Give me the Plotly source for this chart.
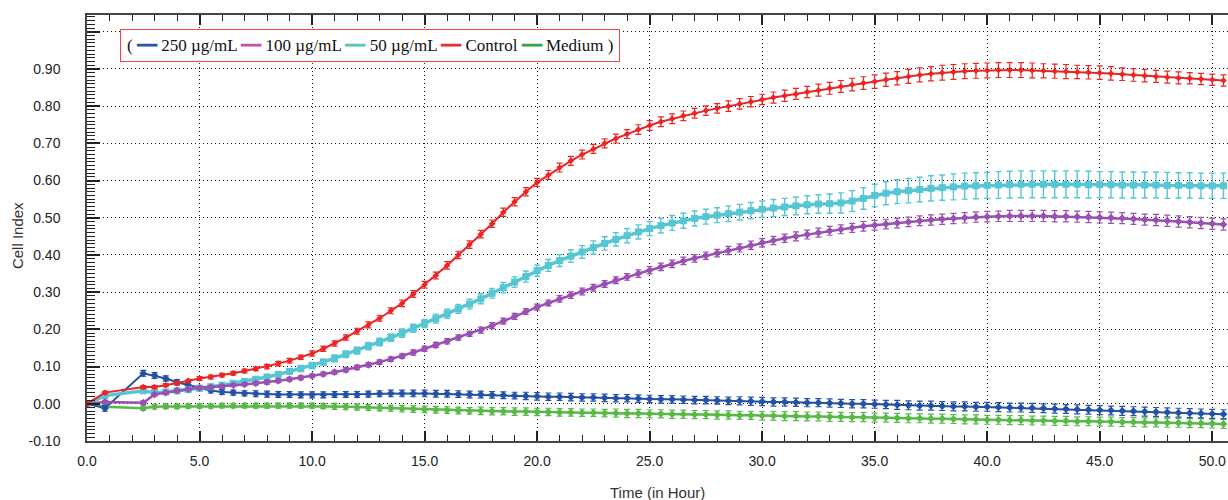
import plotly.graph_objects as go

# ---------------- data ----------------
TIME_H = [0.0, 0.8] + [2.5 + 0.5 * i for i in range(97)]  # 2.5 .. 50.5 h

SERIES_NAMES = ["250 µg/mL", "100 µg/mL", "50 µg/mL", "Control", "Medium"]

CI_250 = [0.000, -0.012,
    0.082, 0.076, 0.068, 0.058, 0.050, 0.042, 0.036, 0.032, 0.030, 0.028,
    0.027, 0.026, 0.025, 0.025, 0.024, 0.024, 0.024, 0.025, 0.025, 0.025,
    0.026, 0.027, 0.028, 0.028, 0.028, 0.028, 0.027, 0.027, 0.026, 0.025,
    0.025, 0.024, 0.023, 0.022, 0.021, 0.020, 0.019, 0.019, 0.018, 0.017,
    0.017, 0.016, 0.015, 0.015, 0.014, 0.013, 0.012, 0.012, 0.011, 0.010,
    0.010, 0.009, 0.008, 0.008, 0.007, 0.006, 0.005, 0.005, 0.004, 0.003,
    0.003, 0.002, 0.001, 0.000, 0.000, -0.001, -0.002, -0.003, -0.004, -0.005,
    -0.005, -0.006, -0.007, -0.007, -0.008, -0.008, -0.009, -0.010, -0.010, -0.011,
    -0.012, -0.013, -0.014, -0.015, -0.016, -0.017, -0.018, -0.019, -0.020, -0.021,
    -0.022, -0.023, -0.024, -0.025, -0.026, -0.027, -0.028]

CI_100 = [0.000, 0.005,
    0.003, 0.025, 0.030, 0.035, 0.039, 0.043, 0.045, 0.047, 0.050, 0.052,
    0.055, 0.058, 0.062, 0.066, 0.070, 0.075, 0.080, 0.085, 0.091, 0.098,
    0.105, 0.112, 0.120, 0.128, 0.138, 0.148, 0.158, 0.168, 0.178, 0.188,
    0.198, 0.210, 0.222, 0.235, 0.248, 0.260, 0.271, 0.282, 0.292, 0.302,
    0.312, 0.322, 0.332, 0.341, 0.350, 0.359, 0.368, 0.376, 0.384, 0.391,
    0.398, 0.405, 0.412, 0.419, 0.426, 0.433, 0.439, 0.445, 0.450, 0.455,
    0.460, 0.465, 0.469, 0.473, 0.477, 0.480, 0.483, 0.486, 0.489, 0.492,
    0.494, 0.496, 0.498, 0.500, 0.502, 0.503, 0.504, 0.505, 0.505, 0.505,
    0.505, 0.504, 0.504, 0.503, 0.502, 0.501, 0.500, 0.499, 0.497, 0.495,
    0.494, 0.492, 0.490, 0.488, 0.486, 0.484, 0.482]

CI_50 = [0.000, 0.022,
    0.035, 0.030, 0.032, 0.035, 0.038, 0.042, 0.046, 0.050, 0.055, 0.060,
    0.066, 0.072, 0.079, 0.087, 0.095, 0.103, 0.112, 0.122, 0.133, 0.143,
    0.155, 0.166, 0.178, 0.190, 0.203, 0.216, 0.229, 0.242, 0.255, 0.268,
    0.282, 0.297, 0.312, 0.327, 0.342, 0.358, 0.372, 0.385, 0.397, 0.408,
    0.420, 0.431, 0.442, 0.452, 0.462, 0.471, 0.479, 0.486, 0.492, 0.498,
    0.503, 0.507, 0.511, 0.515, 0.519, 0.523, 0.526, 0.529, 0.532, 0.535,
    0.537, 0.538, 0.540, 0.545, 0.552, 0.560, 0.566, 0.570, 0.573, 0.576,
    0.579, 0.581, 0.583, 0.585, 0.586, 0.587, 0.588, 0.589, 0.590, 0.590,
    0.590, 0.590, 0.590, 0.590, 0.589, 0.589, 0.589, 0.588, 0.588, 0.588,
    0.588, 0.587, 0.587, 0.587, 0.586, 0.586, 0.586]

CI_CONTROL = [0.000, 0.030,
    0.045, 0.045, 0.050, 0.055, 0.062, 0.068, 0.072, 0.077, 0.082, 0.088,
    0.094, 0.100, 0.108, 0.116, 0.125, 0.135, 0.148, 0.162, 0.178, 0.195,
    0.212, 0.230, 0.250, 0.270, 0.295, 0.320, 0.345, 0.372, 0.400, 0.428,
    0.456, 0.484, 0.515, 0.543, 0.570, 0.595, 0.615, 0.635, 0.653, 0.670,
    0.685, 0.700, 0.713, 0.725, 0.737, 0.748, 0.758, 0.766, 0.774, 0.781,
    0.788, 0.794, 0.800, 0.806, 0.812, 0.818, 0.823, 0.828, 0.833, 0.838,
    0.843, 0.848, 0.853, 0.858, 0.862, 0.866, 0.871, 0.875, 0.880, 0.884,
    0.887, 0.890, 0.892, 0.894, 0.895, 0.896, 0.897, 0.897, 0.897, 0.896,
    0.895, 0.894, 0.893, 0.892, 0.891, 0.890, 0.888, 0.886, 0.884, 0.882,
    0.880, 0.878, 0.876, 0.875, 0.873, 0.871, 0.869]

CI_MEDIUM = [0.000, -0.008,
    -0.012, -0.008, -0.007, -0.007, -0.006, -0.006, -0.006, -0.005, -0.005, -0.005,
    -0.005, -0.005, -0.005, -0.005, -0.005, -0.005, -0.006, -0.007, -0.008, -0.009,
    -0.010, -0.011, -0.012, -0.013, -0.014, -0.015, -0.016, -0.017, -0.018, -0.019,
    -0.019, -0.020, -0.020, -0.021, -0.021, -0.022, -0.022, -0.023, -0.023, -0.024,
    -0.024, -0.025, -0.025, -0.026, -0.026, -0.027, -0.027, -0.028, -0.028, -0.029,
    -0.029, -0.030, -0.030, -0.031, -0.031, -0.032, -0.032, -0.033, -0.033, -0.034,
    -0.034, -0.035, -0.035, -0.036, -0.036, -0.037, -0.037, -0.038, -0.039, -0.039,
    -0.040, -0.040, -0.041, -0.042, -0.042, -0.043, -0.043, -0.044, -0.044, -0.045,
    -0.045, -0.046, -0.046, -0.047, -0.047, -0.048, -0.048, -0.049, -0.049, -0.050,
    -0.050, -0.051, -0.051, -0.052, -0.052, -0.053, -0.054]

# standard deviations (error bars)
SD_250 = [0.000, 0.008,
    0.008, 0.008, 0.007, 0.007, 0.007, 0.007, 0.007, 0.007, 0.007, 0.007,
    0.008, 0.008, 0.008, 0.008, 0.008, 0.008, 0.008, 0.008, 0.008, 0.008,
    0.008, 0.008, 0.009, 0.009, 0.009, 0.009, 0.009, 0.009, 0.009, 0.009,
    0.009, 0.009, 0.009, 0.009, 0.010, 0.010, 0.010, 0.010, 0.010, 0.010,
    0.010, 0.010, 0.010, 0.010, 0.010, 0.010, 0.010, 0.010, 0.010, 0.010,
    0.010, 0.010, 0.010, 0.011, 0.011, 0.011, 0.011, 0.011, 0.011, 0.011,
    0.011, 0.011, 0.011, 0.011, 0.011, 0.011, 0.011, 0.012, 0.012, 0.012,
    0.012, 0.012, 0.012, 0.012, 0.012, 0.012, 0.012, 0.012, 0.012, 0.012,
    0.012, 0.012, 0.012, 0.012, 0.012, 0.012, 0.012, 0.012, 0.012, 0.012,
    0.012, 0.012, 0.012, 0.012, 0.012, 0.012, 0.012]

SD_100 = [0.000, 0.004,
    0.005, 0.004, 0.004, 0.004, 0.004, 0.004, 0.004, 0.004, 0.004, 0.004,
    0.004, 0.005, 0.005, 0.005, 0.005, 0.005, 0.005, 0.005, 0.006, 0.006,
    0.006, 0.006, 0.006, 0.006, 0.007, 0.007, 0.007, 0.007, 0.007, 0.007,
    0.008, 0.008, 0.008, 0.008, 0.008, 0.008, 0.008, 0.009, 0.009, 0.009,
    0.009, 0.009, 0.009, 0.009, 0.010, 0.010, 0.010, 0.010, 0.010, 0.010,
    0.010, 0.010, 0.011, 0.011, 0.011, 0.011, 0.011, 0.011, 0.012, 0.012,
    0.012, 0.012, 0.012, 0.012, 0.013, 0.013, 0.013, 0.013, 0.013, 0.013,
    0.014, 0.014, 0.014, 0.014, 0.014, 0.014, 0.014, 0.015, 0.015, 0.015,
    0.015, 0.015, 0.015, 0.015, 0.015, 0.015, 0.015, 0.015, 0.015, 0.015,
    0.015, 0.015, 0.015, 0.015, 0.015, 0.015, 0.015]

SD_50 = [0.000, 0.005,
    0.006, 0.005, 0.005, 0.005, 0.005, 0.005, 0.005, 0.006, 0.006, 0.006,
    0.006, 0.007, 0.007, 0.007, 0.008, 0.008, 0.008, 0.009, 0.009, 0.009,
    0.010, 0.010, 0.010, 0.011, 0.011, 0.011, 0.012, 0.012, 0.012, 0.013,
    0.013, 0.013, 0.014, 0.014, 0.015, 0.015, 0.016, 0.016, 0.017, 0.017,
    0.018, 0.018, 0.018, 0.019, 0.019, 0.019, 0.020, 0.020, 0.020, 0.020,
    0.020, 0.020, 0.021, 0.021, 0.022, 0.022, 0.023, 0.023, 0.024, 0.024,
    0.025, 0.026, 0.027, 0.028, 0.029, 0.030, 0.031, 0.032, 0.033, 0.033,
    0.034, 0.034, 0.035, 0.035, 0.035, 0.035, 0.036, 0.036, 0.036, 0.036,
    0.036, 0.036, 0.036, 0.036, 0.036, 0.035, 0.035, 0.035, 0.035, 0.035,
    0.035, 0.035, 0.034, 0.034, 0.034, 0.034, 0.034]

SD_CONTROL = [0.000, 0.004,
    0.004, 0.004, 0.004, 0.004, 0.004, 0.005, 0.005, 0.005, 0.005, 0.005,
    0.005, 0.006, 0.006, 0.006, 0.006, 0.007, 0.007, 0.007, 0.007, 0.008,
    0.008, 0.008, 0.008, 0.009, 0.009, 0.009, 0.009, 0.010, 0.010, 0.010,
    0.010, 0.010, 0.011, 0.011, 0.011, 0.011, 0.012, 0.012, 0.012, 0.012,
    0.012, 0.012, 0.012, 0.012, 0.013, 0.013, 0.013, 0.013, 0.013, 0.013,
    0.013, 0.013, 0.014, 0.014, 0.014, 0.014, 0.015, 0.015, 0.015, 0.015,
    0.016, 0.016, 0.016, 0.017, 0.017, 0.018, 0.018, 0.018, 0.019, 0.019,
    0.019, 0.020, 0.020, 0.020, 0.020, 0.020, 0.020, 0.020, 0.020, 0.020,
    0.019, 0.019, 0.019, 0.018, 0.018, 0.018, 0.018, 0.017, 0.017, 0.017,
    0.016, 0.016, 0.016, 0.015, 0.015, 0.015, 0.015]

SD_MEDIUM = [0.000, 0.005,
    0.006, 0.006, 0.006, 0.006, 0.006, 0.006, 0.006, 0.006, 0.006, 0.006,
    0.007, 0.007, 0.007, 0.007, 0.007, 0.007, 0.007, 0.008, 0.008, 0.008,
    0.008, 0.008, 0.008, 0.009, 0.009, 0.009, 0.009, 0.009, 0.009, 0.009,
    0.010, 0.010, 0.010, 0.010, 0.010, 0.010, 0.010, 0.010, 0.010, 0.010,
    0.010, 0.010, 0.011, 0.011, 0.011, 0.011, 0.011, 0.011, 0.011, 0.011,
    0.011, 0.011, 0.011, 0.011, 0.011, 0.012, 0.012, 0.012, 0.012, 0.012,
    0.012, 0.012, 0.012, 0.012, 0.012, 0.012, 0.012, 0.012, 0.012, 0.012,
    0.012, 0.012, 0.012, 0.012, 0.012, 0.012, 0.012, 0.012, 0.012, 0.012,
    0.012, 0.012, 0.012, 0.012, 0.012, 0.012, 0.012, 0.012, 0.012, 0.012,
    0.012, 0.012, 0.012, 0.012, 0.012, 0.012, 0.012]

X_TICKS = [0, 5, 10, 15, 20, 25, 30, 35, 40, 45, 50]
X_TICK_TEXT = ["0.0", "5.0", "10.0", "15.0", "20.0", "25.0", "30.0", "35.0", "40.0", "45.0", "50.0"]
Y_TICKS = [-0.1, 0.0, 0.1, 0.2, 0.3, 0.4, 0.5, 0.6, 0.7, 0.8, 0.9, 1.0]
Y_TICK_TEXT = ["-0.10", "0.00", "0.10", "0.20", "0.30", "0.40", "0.50", "0.60", "0.70", "0.80", "0.90", ""]

# ---------------- styles ----------------
LINE_COLORS = {
    "250 µg/mL": "#2451a6",
    "100 µg/mL": "#9a4fb3",
    "50 µg/mL": "#57c6d3",
    "Control": "#ec2424",
    "Medium": "#58b947",
}
LEGEND_COLORS = {
    "250 µg/mL": "#2a56a8",
    "100 µg/mL": "#c356aa",
    "50 µg/mL": "#56c9b3",
    "Control": "#e83232",
    "Medium": "#35a64e",
}
STYLE = {  # marker symbol, marker size, line width, error-bar thickness
    "250 µg/mL": ("diamond", 6, 2, 1.2),
    "100 µg/mL": ("diamond", 6, 2.5, 1.2),
    "50 µg/mL": ("square", 7, 3.5, 1.4),
    "Control": ("diamond", 5, 2, 1.2),
    "Medium": ("diamond", 6, 2.5, 1.2),
}

values = {
    "250 µg/mL": (CI_250, SD_250),
    "100 µg/mL": (CI_100, SD_100),
    "50 µg/mL": (CI_50, SD_50),
    "Control": (CI_CONTROL, SD_CONTROL),
    "Medium": (CI_MEDIUM, SD_MEDIUM),
}

draw_order = ["Medium", "250 µg/mL", "50 µg/mL", "100 µg/mL", "Control"]

fig = go.Figure()
for name in draw_order:
    y, sd = values[name]
    sym, size, lw, et = STYLE[name]
    col = LINE_COLORS[name]
    fig.add_trace(go.Scatter(
        x=TIME_H, y=y, name=name, mode="lines+markers",
        line=dict(color=col, width=lw),
        marker=dict(symbol=sym, size=size, color=col),
        error_y=dict(type="data", array=sd, visible=True, color=col, thickness=et, width=3),
        showlegend=False,
    ))

# legend drawn as a framed text line, as in the reference
parts = []
for name in SERIES_NAMES:
    parts.append(f"<span style='color:{LEGEND_COLORS[name]}'>━━</span> {name}")
legend_text = "( " + " ".join(parts) + " )"

fig.add_annotation(
    xref="paper", yref="paper", x=0, y=1, xshift=33, yshift=-14,
    xanchor="left", yanchor="top", showarrow=False,
    text=legend_text,
    font=dict(family="Liberation Serif, Times New Roman, serif", size=17, color="#111"),
    bordercolor="#f04848", borderwidth=1, borderpad=6, bgcolor="white",
)

fig.add_annotation(
    xref="paper", yref="paper", x=0, y=0.481, xshift=-70,
    xanchor="center", yanchor="middle",
    text="Cell Index", textangle=-90, showarrow=False,
    font=dict(family="Liberation Sans, Arial, sans-serif", size=15, color="#333"),
)
fig.add_annotation(
    xref="paper", yref="paper", x=0.5, y=0, yshift=-51, yanchor="middle",
    text="Time (in Hour)", showarrow=False,
    font=dict(family="Liberation Sans, Arial, sans-serif", size=15, color="#333"),
)

axis_font = dict(family="Liberation Sans, Arial, sans-serif", size=14, color="#222")

fig.update_xaxes(
    range=[0, 50.7], tickvals=X_TICKS, ticktext=X_TICK_TEXT,
    ticks="inside", ticklen=10, tickwidth=1.5, tickcolor="#222",
    showline=True, linecolor="#444", linewidth=1.5, mirror="allticks",
    showgrid=True, gridcolor="#111", gridwidth=1, griddash="1px,3px",
    zeroline=False, tickfont=axis_font, ticklabelstandoff=6,
    minor=dict(dtick=1, ticks="inside", ticklen=6, tickwidth=1.2, tickcolor="#222", showgrid=False),
)
fig.update_yaxes(
    range=[-0.10, 1.045], tickvals=Y_TICKS, ticktext=Y_TICK_TEXT,
    ticks="inside", ticklen=13, tickwidth=1.5, tickcolor="#222",
    showline=True, linecolor="#444", linewidth=1.5, mirror=False,
    showgrid=True, gridcolor="#111", gridwidth=1, griddash="1px,3px",
    zeroline=False, tickfont=axis_font, ticklabelstandoff=22,
    minor=dict(dtick=0.01, ticks="inside", ticklen=8, tickwidth=1.2, tickcolor="#222", showgrid=False),
)

fig.update_layout(
    width=1228, height=500,
    margin=dict(l=87, r=0, t=15, b=59),
    paper_bgcolor="white", plot_bgcolor="white",
    showlegend=False,
)

fig.write_html("out.html")
